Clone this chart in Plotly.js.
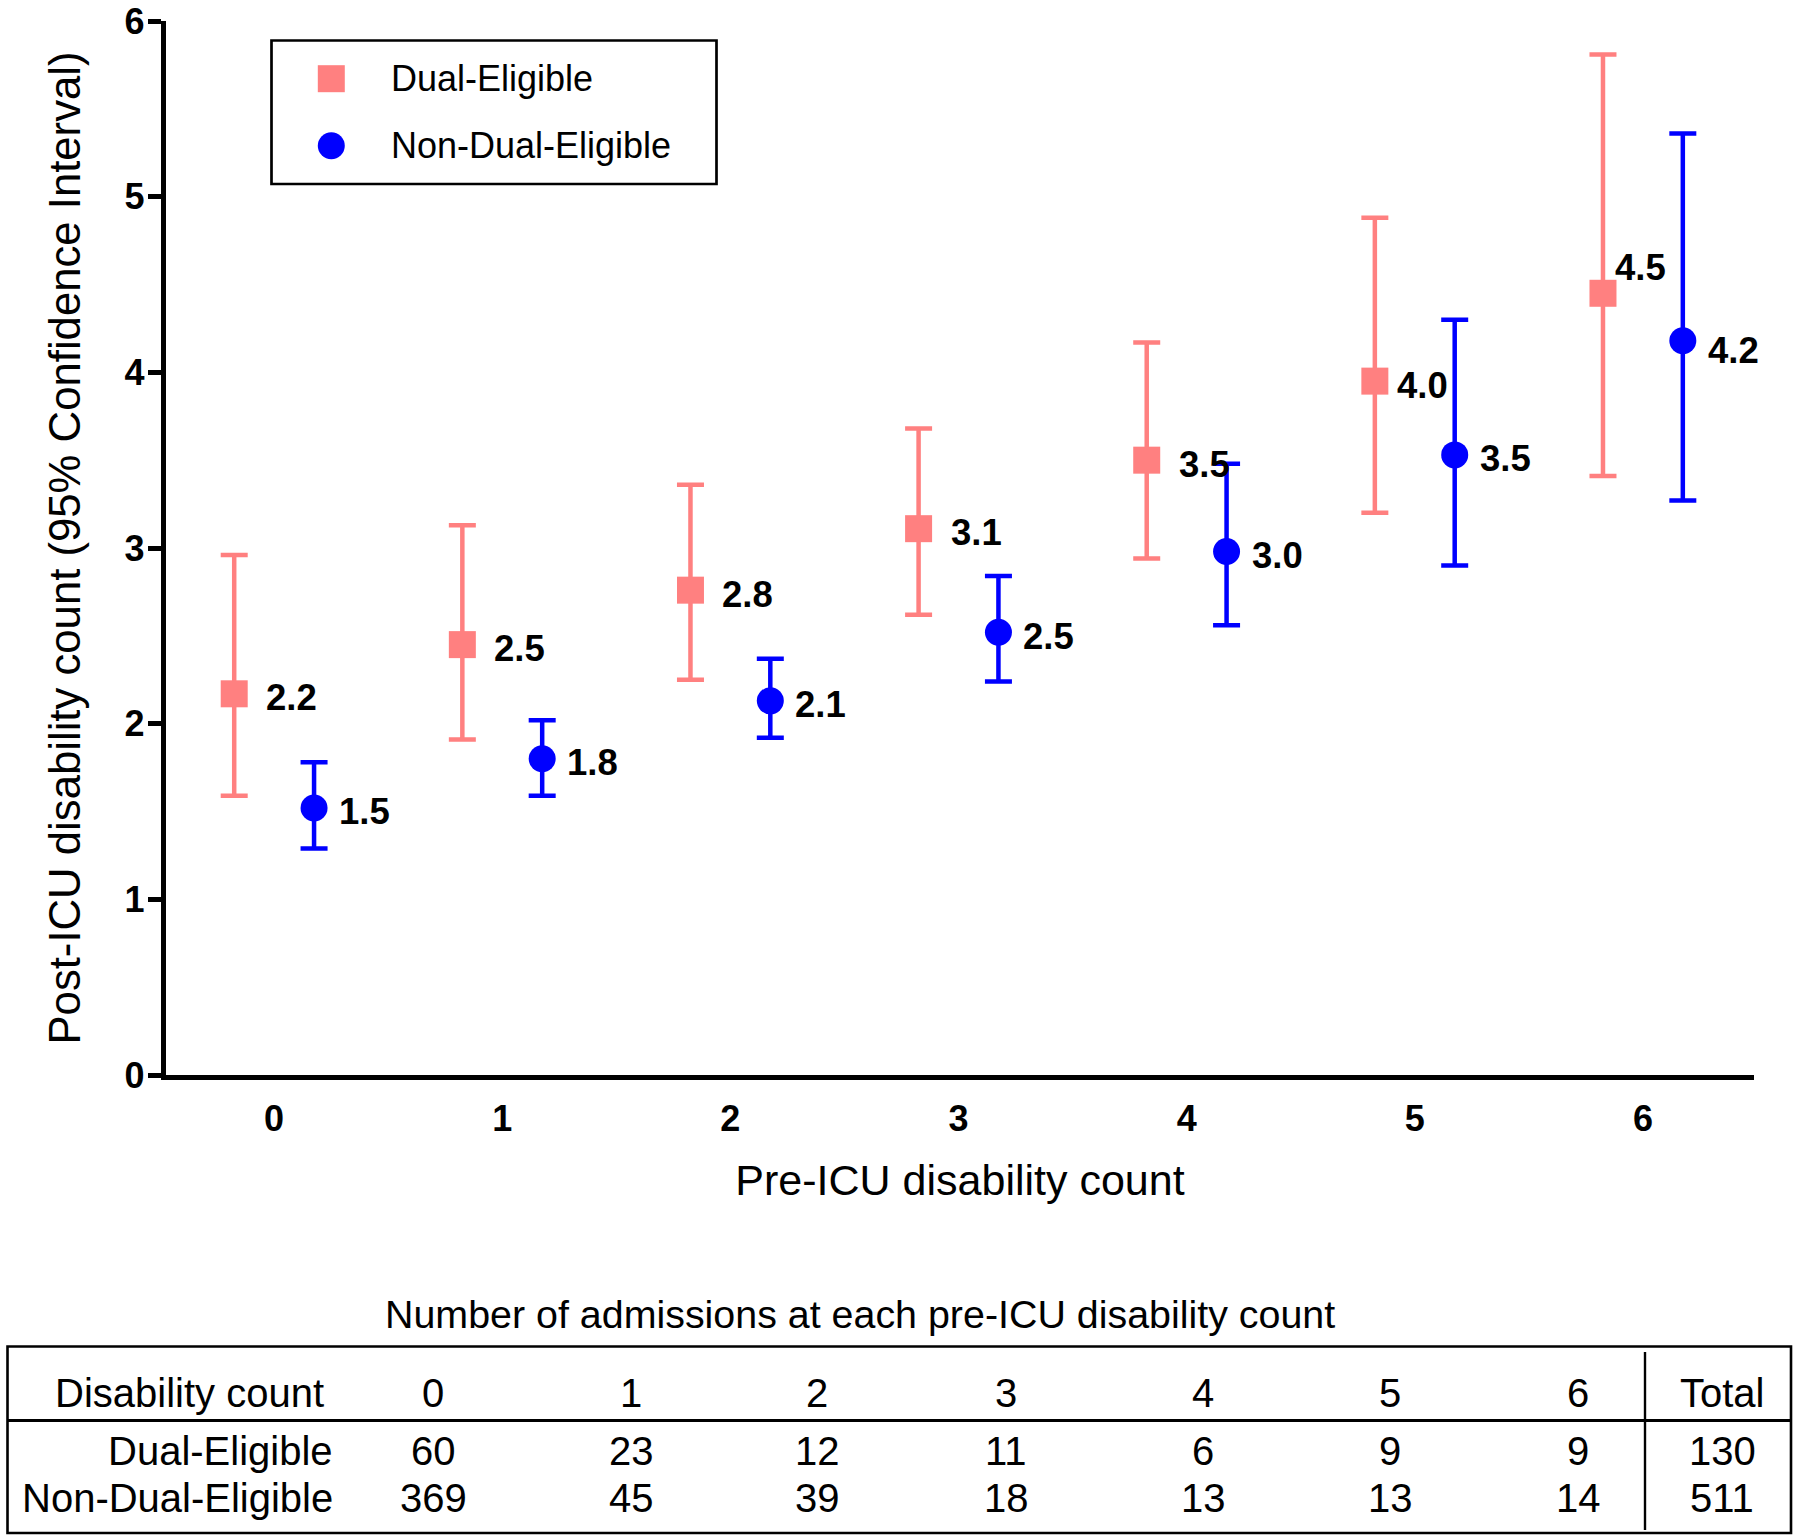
<!DOCTYPE html>
<html>
<head>
<meta charset="utf-8">
<script src="https://cdn.plot.ly/plotly-3.0.1.min.js"></script>
<style>
html,body{margin:0;padding:0;background:#ffffff;}
#chart{width:1800px;height:1540px;}
</style>
</head>
<body>
<div id="chart"></div>
<script>
// ---------------- data ----------------
const categories = [0, 1, 2, 3, 4, 5, 6];
const tickLabels = ['0', '1', '2', '3', '4', '5', '6'];
const yTickValues = [0, 1, 2, 3, 4, 5, 6];
const seriesNames = ['Dual-Eligible', 'Non-Dual-Eligible'];

const dualMean = [2.17, 2.45, 2.76, 3.11, 3.50, 3.95, 4.45];
const dualLow  = [1.59, 1.91, 2.25, 2.62, 2.94, 3.20, 3.41];
const dualHigh = [2.96, 3.13, 3.36, 3.68, 4.17, 4.88, 5.81];
const dualLabels = ['2.2', '2.5', '2.8', '3.1', '3.5', '4.0', '4.5'];

const nonMean = [1.52, 1.80, 2.13, 2.52, 2.98, 3.53, 4.18];
const nonLow  = [1.29, 1.59, 1.92, 2.24, 2.56, 2.90, 3.27];
const nonHigh = [1.78, 2.02, 2.37, 2.84, 3.48, 4.30, 5.36];
const nonLabels = ['1.5', '1.8', '2.1', '2.5', '3.0', '3.5', '4.2'];

const xTitle = 'Pre-ICU disability count';
const yTitle = 'Post-ICU disability count (95% Confidence Interval)';

const tableTitle = 'Number of admissions at each pre-ICU disability count';
const tableHeaderLabel = 'Disability count';
const tableColumns = ['0', '1', '2', '3', '4', '5', '6', 'Total'];
const dualCounts = [60, 23, 12, 11, 6, 9, 9, 130];
const nonDualCounts = [369, 45, 39, 18, 13, 13, 14, 511];

// ---------------- styles / layout geometry ----------------
const W = 1800, H = 1540;
const M = {l: 166, r: 46, t: 21, b: 465};
const PW = W - M.l - M.r, PH = H - M.t - M.b;
const px = v => (v - M.l) / PW;          // page px -> paper x
const py = v => 1 - (v - M.t) / PH;      // page px -> paper y

const PINK = 'rgb(255,128,128)';
const BLUE = 'rgb(0,0,255)';
const FONT = 'Liberation Sans, Arial, Helvetica, sans-serif';
const OFFSET = 0.175;

const labelNudge = {
  dual: {gap: 31, dy: -4, special: {5: {gap: 21}, 6: {gap: 11, dy: 26}}},
  non:  {gap: 24, dy: -4, special: {6: {dy: -10}}}
};

const diff = (a, b) => a.map((v, i) => v - b[i]);

const traces = [
  {
    type: 'scatter', mode: 'markers', name: seriesNames[0],
    x: categories.map(c => c - OFFSET), y: dualMean,
    marker: {symbol: 'square', size: 27, color: PINK, line: {width: 0}},
    error_y: {type: 'data', symmetric: false,
      array: diff(dualHigh, dualMean), arrayminus: diff(dualMean, dualLow),
      color: PINK, thickness: 4.5, width: 13.5},
    showlegend: false, cliponaxis: false
  },
  {
    type: 'scatter', mode: 'markers', name: seriesNames[1],
    x: categories.map(c => c + OFFSET), y: nonMean,
    marker: {symbol: 'circle', size: 27, color: BLUE, line: {width: 0}},
    error_y: {type: 'data', symmetric: false,
      array: diff(nonHigh, nonMean), arrayminus: diff(nonMean, nonLow),
      color: BLUE, thickness: 4.5, width: 13.5},
    showlegend: false, cliponaxis: false
  }
];

const annotations = [];
function addValueLabels(xs, ys, labels, nudge) {
  labels.forEach((t, i) => {
    const sp = nudge.special[i] || {};
    annotations.push({
      xref: 'x', yref: 'y', x: xs[i], y: ys[i], text: t,
      showarrow: false, xanchor: 'left', yanchor: 'middle',
      xshift: sp.gap !== undefined ? sp.gap : nudge.gap,
      yshift: sp.dy !== undefined ? sp.dy : nudge.dy,
      borderpad: 0,
      font: {family: FONT, size: 36.5, color: '#000', weight: 'bold'}
    });
  });
}
addValueLabels(categories.map(c => c - OFFSET), dualMean, dualLabels, labelNudge.dual);
addValueLabels(categories.map(c => c + OFFSET), nonMean, nonLabels, labelNudge.non);

// ---- legend (drawn manually for large symbols) ----
const shapes = [];
shapes.push({type: 'rect', xref: 'paper', yref: 'paper',
  x0: px(271.5), x1: px(716.5), y0: py(40.5), y1: py(184),
  line: {color: '#000', width: 2.7}, fillcolor: 'rgba(0,0,0,0)'});
shapes.push({type: 'rect', xref: 'paper', yref: 'paper',
  x0: px(331.3 - 13.5), x1: px(331.3 + 13.5), y0: py(78.7 - 13.5), y1: py(78.7 + 13.5),
  line: {width: 0}, fillcolor: PINK});
shapes.push({type: 'circle', xref: 'paper', yref: 'paper',
  x0: px(331.3 - 13.5), x1: px(331.3 + 13.5), y0: py(145.8 - 13.5), y1: py(145.8 + 13.5),
  line: {width: 0}, fillcolor: BLUE});
[78.7, 145.8].forEach((yy, i) => {
  annotations.push({xref: 'paper', yref: 'paper', x: px(390), y: py(yy),
    text: seriesNames[i], showarrow: false, xanchor: 'left', yanchor: 'middle',
    borderpad: 0, font: {family: FONT, size: 36, color: '#000'}});
});

// ---- admissions table ----
const colX = [433, 631, 817, 1006, 1203, 1390, 1578, 1722];
const rowY = {title: 1314, head: 1392.5, r1: 1451, r2: 1498};
const tfont = {family: FONT, size: 40, color: '#000'};
annotations.push({xref: 'paper', yref: 'paper', x: px(860), y: py(rowY.title),
  text: tableTitle, showarrow: false, xanchor: 'center', yanchor: 'middle',
  borderpad: 0, font: {family: FONT, size: 39.4, color: '#000'}});
annotations.push({xref: 'paper', yref: 'paper', x: px(325), y: py(rowY.head),
  text: tableHeaderLabel, showarrow: false, xanchor: 'right', yanchor: 'middle',
  borderpad: 0, font: tfont});
annotations.push({xref: 'paper', yref: 'paper', x: px(334), y: py(rowY.r1),
  text: seriesNames[0], showarrow: false, xanchor: 'right', yanchor: 'middle',
  borderpad: 0, font: tfont});
annotations.push({xref: 'paper', yref: 'paper', x: px(334), y: py(rowY.r2),
  text: seriesNames[1], showarrow: false, xanchor: 'right', yanchor: 'middle',
  borderpad: 0, font: tfont});
tableColumns.forEach((c, i) => {
  annotations.push({xref: 'paper', yref: 'paper', x: px(colX[i]), y: py(rowY.head),
    text: c, showarrow: false, xanchor: 'center', yanchor: 'middle', borderpad: 0, font: tfont});
  annotations.push({xref: 'paper', yref: 'paper', x: px(colX[i]), y: py(rowY.r1),
    text: String(dualCounts[i]), showarrow: false, xanchor: 'center', yanchor: 'middle', borderpad: 0, font: tfont});
  annotations.push({xref: 'paper', yref: 'paper', x: px(colX[i]), y: py(rowY.r2),
    text: String(nonDualCounts[i]), showarrow: false, xanchor: 'center', yanchor: 'middle', borderpad: 0, font: tfont});
});
shapes.push({type: 'rect', xref: 'paper', yref: 'paper',
  x0: px(7.5), x1: px(1791), y0: py(1346.5), y1: py(1533),
  line: {color: '#000', width: 2.6}, fillcolor: 'rgba(0,0,0,0)'});
shapes.push({type: 'line', xref: 'paper', yref: 'paper',
  x0: px(7.5), x1: px(1791), y0: py(1420.5), y1: py(1420.5),
  line: {color: '#000', width: 3}});
shapes.push({type: 'line', xref: 'paper', yref: 'paper',
  x0: px(1645), x1: px(1645), y0: py(1352), y1: py(1530),
  line: {color: '#000', width: 2.4}});

const layout = {
  width: W, height: H,
  margin: M,
  paper_bgcolor: '#ffffff', plot_bgcolor: '#ffffff',
  showlegend: false,
  font: {family: FONT, color: '#000'},
  xaxis: {
    range: [-0.474, 6.487], tickvals: categories, ticktext: tickLabels,
    showgrid: false, zeroline: false, showline: true, linecolor: '#000', linewidth: 5.3,
    ticks: '', ticklabelstandoff: 7,
    tickfont: {family: FONT, size: 36, color: '#000', weight: 'bold'},
    title: {text: xTitle, font: {family: FONT, size: 43, color: '#000'}, standoff: 29},
    automargin: false, fixedrange: true
  },
  yaxis: {
    range: [0, 6], tickvals: yTickValues,
    showgrid: false, zeroline: false, showline: true, linecolor: '#000', linewidth: 5.5,
    ticks: 'outside', ticklen: 12.7, tickwidth: 5, tickcolor: '#000',
    ticklabeloverflow: 'allow', ticklabelstandoff: -4,
    tickfont: {family: FONT, size: 36, color: '#000', weight: 'bold'},
    title: {text: yTitle, font: {family: FONT, size: 43.7, color: '#000'}, standoff: 32},
    automargin: false, fixedrange: true
  },
  annotations: annotations,
  shapes: shapes
};

Plotly.newPlot('chart', traces, layout, {displayModeBar: false, staticPlot: true});
</script>
</body>
</html>
